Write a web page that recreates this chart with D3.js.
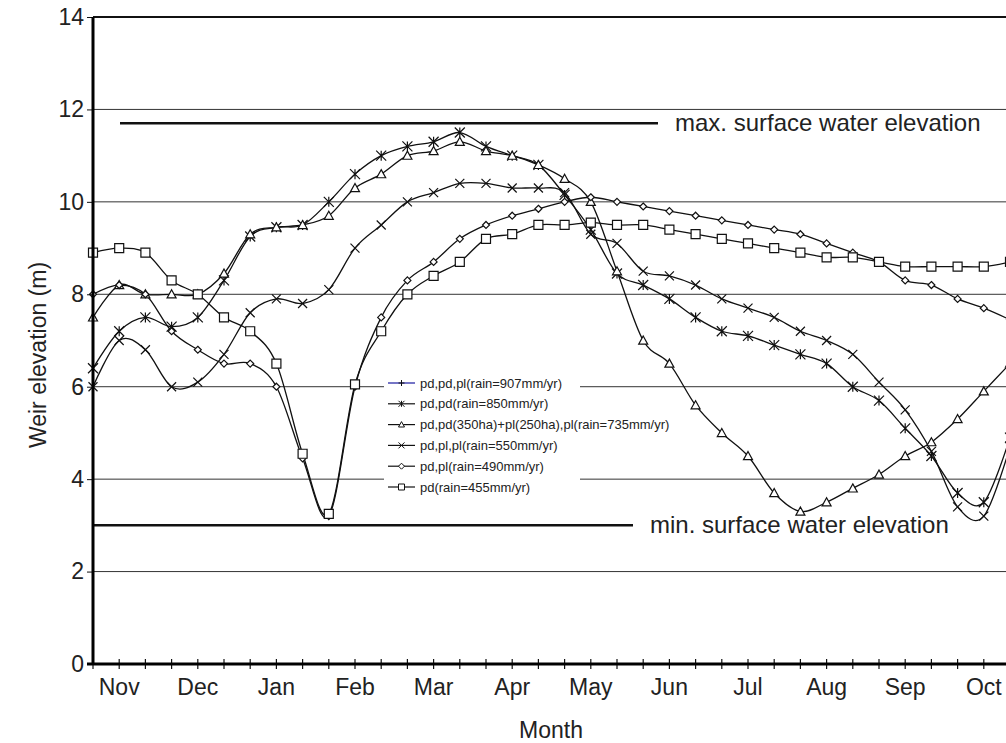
<!DOCTYPE html>
<html>
<head>
<meta charset="utf-8">
<script src="https://cdn.jsdelivr.net/npm/d3@7"></script>
<style>
  body { margin: 0; background: #fff; }
  svg text { font-family: "Liberation Sans", Arial, sans-serif; fill: #222; }
</style>
</head>
<body>
<div id="chart"></div>
<script>
// Dekads (10-day periods) Nov..Oct, 3 per month
const months = ["Nov", "Dec", "Jan", "Feb", "Mar", "Apr", "May", "Jun", "Jul", "Aug", "Sep", "Oct"];
const yTicks = [0, 2, 4, 6, 8, 10, 12, 14];

// Weir elevation (m) per dekad
const plus907 = null; // only shown in the legend
const star850 = [6.4, 7.2, 7.5, 7.3, 7.5, 8.3, 9.25, 9.45, 9.5, 10.0, 10.6, 11.0, 11.2, 11.3, 11.5, 11.2, 11.0, 10.8,
                 10.15, 9.4, 8.45, 8.2, 7.9, 7.5, 7.2, 7.1, 6.9, 6.7, 6.5, 6.0, 5.7, 5.1, 4.5, 3.7, 3.5, 4.9];
const tri735 = [7.5, 8.2, 8.0, 8.0, 8.0, 8.45, 9.3, 9.45, 9.5, 9.7, 10.3, 10.6, 11.0, 11.1, 11.3, 11.1, 11.0, 10.8,
                10.5, 10.0, 8.5, 7.0, 6.5, 5.6, 5.0, 4.5, 3.7, 3.3, 3.5, 3.8, 4.1, 4.5, 4.8, 5.3, 5.9, 6.5];
const cross550 = [6.0, 7.0, 6.8, 6.0, 6.1, 6.7, 7.6, 7.9, 7.8, 8.1, 9.0, 9.5, 10.0, 10.2, 10.4, 10.4, 10.3, 10.3,
                  10.2, 9.3, 9.1, 8.5, 8.4, 8.2, 7.9, 7.7, 7.5, 7.2, 7.0, 6.7, 6.1, 5.5, 4.6, 3.4, 3.2, 4.7];
const diam490 = [8.0, 8.2, 8.0, 7.2, 6.8, 6.5, 6.5, 6.0, 4.45, 3.2, 6.0, 7.5, 8.3, 8.7, 9.2, 9.5, 9.7, 9.85,
                 10.0, 10.1, 10.0, 9.9, 9.8, 9.7, 9.6, 9.5, 9.4, 9.3, 9.1, 8.9, 8.7, 8.3, 8.2, 7.9, 7.7, 7.45];
const sq455 = [8.9, 9.0, 8.9, 8.3, 8.0, 7.5, 7.2, 6.5, 4.55, 3.25, 6.05, 7.2, 8.0, 8.4, 8.7, 9.2, 9.3, 9.5,
               9.5, 9.55, 9.5, 9.5, 9.4, 9.3, 9.2, 9.1, 9.0, 8.9, 8.8, 8.8, 8.7, 8.6, 8.6, 8.6, 8.6, 8.7];

const seriesNames = ["pd,pd,pl(rain=907mm/yr)", "pd,pd(rain=850mm/yr)", "pd,pd(350ha)+pl(250ha),pl(rain=735mm/yr)",
                     "pd,pl,pl(rain=550mm/yr)", "pd,pl(rain=490mm/yr)", "pd(rain=455mm/yr)"];
const seriesMarkers = ["plus", "star", "triangle", "cross", "diamond", "square"];
const seriesValues = [plus907, star850, tri735, cross550, diam490, sq455];

// Reference levels
const refLabels = ["max. surface water elevation", "min. surface water elevation"];
const refValues = [11.7, 3.0];

const width = 1006, height = 743;
const nDekads = 36;

let svg = d3.select("#chart").append("svg")
    .attr("width", width)
    .attr("height", height);

let x = d3.scaleLinear().domain([0, nDekads - 1]).range([93, 93 + 35 * 26.2]);
let y = d3.scaleLinear().domain([0, 14]).range([664, 17]);

// marker shapes as path strings
function markerPath(type, s) {
    let h = s / 2;
    switch (type) {
        case "square": return `M${-h},${-h}H${h}V${h}H${-h}Z`;
        case "diamond": return `M0,${-h}L${h},0L0,${h}L${-h},0Z`;
        case "triangle": return `M0,${-h}L${h},${h * 0.8}L${-h},${h * 0.8}Z`;
        case "cross": return `M${-h},${-h}L${h},${h}M${h},${-h}L${-h},${h}`;
        case "plus": return `M${-h},0H${h}M0,${-h}V${h}`;
        case "star": return `M${-h},${-h}L${h},${h}M${h},${-h}L${-h},${h}M0,${-h}V${h}`;
    }
}
const markerSize = {square: 9, diamond: 7, triangle: 9, cross: 9, plus: 9, star: 10};

// gridlines
svg.append("g").selectAll("line.grid")
    .data(yTicks.filter(v => v > 0 && v < 14))
    .enter().append("line")
    .attr("class", "grid")
    .attr("x1", x(0)).attr("x2", width)
    .attr("y1", d => y(d)).attr("y2", d => y(d))
    .attr("stroke", "#333").attr("stroke-width", 1);

// top border
svg.append("line")
    .attr("x1", x(0)).attr("x2", width)
    .attr("y1", y(14)).attr("y2", y(14))
    .attr("stroke", "#111").attr("stroke-width", 2);

// reference lines
let refStart = [120, 93], refEnd = [658, 633];
refValues.forEach((v, i) => {
    svg.append("line")
        .attr("x1", refStart[i]).attr("x2", refEnd[i])
        .attr("y1", y(v)).attr("y2", y(v))
        .attr("stroke", "#111").attr("stroke-width", 2.5);
    svg.append("text")
        .attr("x", refEnd[i] + 17)
        .attr("y", y(v) + 8)
        .attr("font-size", 24)
        .text(refLabels[i]);
});

// series lines
let line = d3.line()
    .x((d, i) => x(i))
    .y(d => y(d))
    .curve(d3.curveCardinal.tension(0));

seriesValues.forEach((vals, s) => {
    if (!vals) return;
    svg.append("path")
        .datum(vals)
        .attr("d", line)
        .attr("fill", "none")
        .attr("stroke", "#111")
        .attr("stroke-width", 1.3);
});

seriesValues.forEach((vals, s) => {
    if (!vals) return;
    let type = seriesMarkers[s];
    svg.append("g").selectAll("path")
        .data(vals)
        .enter().append("path")
        .attr("transform", (d, i) => `translate(${x(i)},${y(d)})`)
        .attr("d", markerPath(type, markerSize[type]))
        .attr("fill", "#fff")
        .attr("stroke", "#111")
        .attr("stroke-width", 1.2);
});

// axes
let yAxis = d3.axisLeft(y).tickValues(yTicks).tickSize(6).tickFormat(d3.format("d"));
let yG = svg.append("g").attr("transform", `translate(${x(0)},0)`).call(yAxis);
yG.select(".domain").remove();
yG.selectAll("line").attr("stroke", "#111");
yG.selectAll("text").attr("font-size", 23).attr("x", -9).style("font-family", "Liberation Sans, Arial");

let xTicksG = svg.append("g");
xTicksG.selectAll("line")
    .data(d3.range(nDekads))
    .enter().append("line")
    .attr("x1", d => x(d)).attr("x2", d => x(d))
    .attr("y1", y(0) - 5).attr("y2", y(0) + 5)
    .attr("stroke", "#111").attr("stroke-width", 1.2);

svg.append("line")
    .attr("x1", x(0) - 6).attr("x2", width)
    .attr("y1", y(0)).attr("y2", y(0))
    .attr("stroke", "#000").attr("stroke-width", 3);
svg.append("line")
    .attr("x1", x(0)).attr("x2", x(0))
    .attr("y1", y(14)).attr("y2", y(0) + 1)
    .attr("stroke", "#000").attr("stroke-width", 3);

// month labels centred on the middle dekad of each month
svg.append("g").selectAll("text")
    .data(months)
    .enter().append("text")
    .attr("x", (d, i) => x(i * 3 + 1))
    .attr("y", 695)
    .attr("text-anchor", "middle")
    .attr("font-size", 23)
    .text(d => d);

svg.append("text")
    .attr("x", 551).attr("y", 738)
    .attr("text-anchor", "middle")
    .attr("font-size", 23)
    .text("Month");

svg.append("text")
    .attr("transform", "translate(46,355) rotate(-90)")
    .attr("text-anchor", "middle")
    .attr("font-size", 23)
    .text("Weir elevation (m)");

// legend
let legend = svg.append("g");
legend.append("rect")
    .attr("x", 384).attr("y", 370)
    .attr("width", 196).attr("height", 128)
    .attr("fill", "#fff");
seriesNames.forEach((name, i) => {
    let ly = 383 + i * 20.8;
    let type = seriesMarkers[i];
    legend.append("line")
        .attr("x1", 388).attr("x2", 415)
        .attr("y1", ly).attr("y2", ly)
        .attr("stroke", i === 0 ? "#1a1aa0" : "#111")
        .attr("stroke-width", 1.2);
    legend.append("path")
        .attr("transform", `translate(401.5,${ly})`)
        .attr("d", markerPath(type, 6))
        .attr("fill", "#fff")
        .attr("stroke", "#111")
        .attr("stroke-width", 1);
    legend.append("text")
        .attr("x", 420).attr("y", ly + 4.5)
        .attr("font-size", 13)
        .text(name);
});
</script>
</body>
</html>
